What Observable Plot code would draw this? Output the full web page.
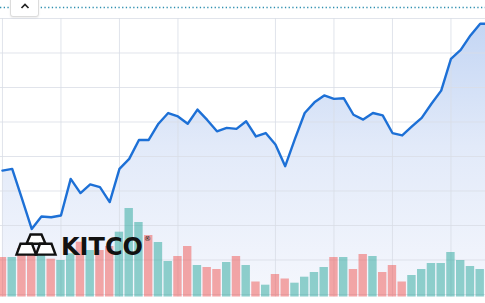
<!DOCTYPE html>
<html><head><meta charset="utf-8">
<script src="https://cdn.jsdelivr.net/npm/d3@7"></script>
<script src="https://cdn.jsdelivr.net/npm/@observablehq/plot@0.6"></script>
<style>
html,body{margin:0;padding:0;background:#fff;}
#wrap{position:relative;width:485px;height:303px;overflow:hidden;background:#fff;}
#wrap > svg{position:absolute;left:0;top:0;}
#btn{position:absolute;left:10px;top:-4px;width:27px;height:19px;border:1px solid #dcdcdc;border-radius:3px;background:#fff;box-shadow:0 1px 2px rgba(0,0,0,0.08);}
#logo{position:absolute;left:0;top:0;pointer-events:none;}
</style></head><body>
<div id="wrap"></div>
<script>
// ---- data ----
const prices = [2335.9, 2336.4, 2327.8, 2319.0, 2322.6, 2322.4, 2322.9, 2333.5, 2329.4, 2331.9,
                2331.1, 2326.8, 2336.4, 2339.3, 2344.8, 2344.8, 2349.5, 2352.6, 2351.6, 2349.5,
                2353.6, 2350.6, 2347.3, 2348.3, 2348.0, 2350.2, 2345.8, 2346.8, 2343.5, 2337.2,
                2345.1, 2352.6, 2355.7, 2357.7, 2356.7, 2356.9, 2352.1, 2350.7, 2352.6, 2351.9,
                2346.8, 2346.1, 2348.7, 2351.2, 2355.3, 2359.1, 2368.3, 2370.9, 2375.1, 2378.5,
                2378.5];
const volumes = [39.5, 39.5, 48.5, 48.5, 46.5, 37.8, 36.5, 43.2, 54.8, 46.5,
                 46.5, 50.5, 64.8, 88.5, 74.5, 61.5, 54.5, 35.5, 40.5, 50.5,
                 31.5, 29.5, 27.5, 34.5, 40.5, 31.5, 15.0, 11.8, 22.5, 18.0,
                 13.8, 19.8, 24.5, 29.5, 39.5, 39.5, 27.5, 42.5, 40.5, 24.5,
                 31.5, 15.0, 21.5, 27.5, 33.5, 33.5, 44.5, 36.5, 30.5, 27.5];
const direction = ["down","up","down","down","up","down","up","up","down","up",
                   "down","down","up","up","up","down","up","up","down","down",
                   "up","down","down","up","down","up","down","up","down","down",
                   "up","up","up","up","down","up","down","down","up","down",
                   "down","down","up","up","up","up","up","up","up","up"];
const gridSessions = [0, 6, 12, 18, 28, 34, 40, 46];
const priceTicks = [2300, 2310, 2320, 2330, 2340, 2350, 2360, 2370, 2380];
const refLevel = 2383.2;
const baseLevel = 2299.3;

const W = 485, H = 303;
const pts = prices.map((p, i) => ({i, p}));
const bars = volumes.map((v, i) => ({i, v, d: direction[i]}));

const gradDefs = () => {
  const s = d3.create("svg:defs");
  const g = s.append("linearGradient").attr("id", "areaGrad")
    .attr("x1", 0).attr("x2", 0).attr("y1", 0).attr("y2", 1);
  g.append("stop").attr("offset", 0).attr("stop-color", "#c4d6f4");
  g.append("stop").attr("offset", 0.45).attr("stop-color", "#e2eaf9");
  g.append("stop").attr("offset", 1).attr("stop-color", "#f5f7fd");
  return s.node();
};

const pricePlot = Plot.plot({
  width: W, height: H, margin: 0,
  x: {type: "linear", domain: [0, 49], range: [1.95, 479.7], axis: null},
  y: {domain: [2300, 2380], range: [294, 18], axis: null},
  marks: [
    gradDefs,
    Plot.areaY(pts, {x: "i", y1: baseLevel, y2: "p", fill: "url(#areaGrad)"}),
    Plot.ruleY(priceTicks, {stroke: "#d9dde6", strokeOpacity: 0.8}),
    Plot.ruleX(gridSessions, {y1: 2380, y2: baseLevel, stroke: "#d9dde6", strokeOpacity: 0.8}),
    Plot.line(pts, {x: "i", y: "p", stroke: "#1d70d6", strokeWidth: 2.4, strokeLinejoin: "round"}),
    Plot.ruleY([refLevel], {stroke: "#2f8fb0", strokeWidth: 1.4, strokeDasharray: "1.3,2.4"})
  ]
});

const volPlot = Plot.plot({
  width: W, height: H, margin: 0,
  style: {background: "transparent"},
  x: {type: "band", domain: d3.range(50), range: [-2.93, 484.57], paddingInner: 0.14, paddingOuter: 0.07, axis: null},
  y: {domain: [0, 100], range: [296.5, 196.5], axis: null},
  color: {domain: ["up", "down"], range: ["#26a69a", "#ef5350"]},
  marks: [
    Plot.barY(bars, {x: "i", y: "v", fill: "d", fillOpacity: 0.5})
  ]
});

const wrap = document.getElementById("wrap");
wrap.appendChild(pricePlot);
wrap.appendChild(volPlot);

// logo overlay
const ns = "http://www.w3.org/2000/svg";
wrap.insertAdjacentHTML("beforeend", `
<svg id="logo" width="${W}" height="${H}" xmlns="${ns}">
  <g fill="#fff" stroke="#111" stroke-width="2.4" stroke-linejoin="miter">
    <polygon points="30.5,234.5 41.5,234.5 45.5,243.8 26.5,243.8"/>
    <polygon points="20.5,243.8 32,243.8 36,254.6 16.5,254.6"/>
    <polygon points="40,243.8 51.5,243.8 55.5,254.6 36,254.6"/>
  </g>
  <text x="61" y="255" font-family="DejaVu Sans" font-weight="bold" font-size="24" fill="#111">KITCO</text>
  <text x="144" y="241" font-family="DejaVu Sans" font-size="7" fill="#111">®</text>
</svg>`);
wrap.insertAdjacentHTML("beforeend", `<div id="btn"><svg width="27" height="19" style="position:absolute;left:0;top:0"><path d="M10.5 11 L14 7.5 L17.5 11" fill="none" stroke="#222" stroke-width="1.7"/></svg></div>`);
</script>
</body></html>
